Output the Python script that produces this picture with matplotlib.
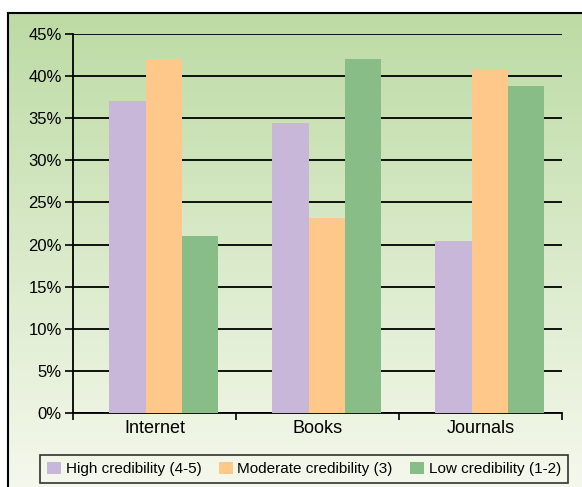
import numpy as np
import matplotlib.pyplot as plt
from matplotlib.colors import LinearSegmentedColormap

# Data
categories = ["Internet", "Books", "Journals"]
high_cred = [37.0, 34.4, 20.4]
moderate_cred = [42.0, 23.2, 40.8]
low_cred = [21.0, 42.0, 38.8]
series_labels = ["High credibility (4-5)", "Moderate credibility (3)", "Low credibility (1-2)"]
yticks = [0, 5, 10, 15, 20, 25, 30, 35, 40, 45]

COLORS = ["#c8b7d8", "#fec88a", "#88bd88"]
FONT = "Liberation Sans"

fig = plt.figure(figsize=(5.82, 4.87), dpi=100)

# Gradient panel behind everything
bg = fig.add_axes([8 / 582, -0.02, 1.0, 1 - 13 / 487 + 0.02])
cmap = LinearSegmentedColormap.from_list("bg", ["#f6f9ee", "#bddba5"])
grad = np.linspace(0, 1, 256).reshape(-1, 1)
bg.imshow(grad, aspect="auto", cmap=cmap, origin="lower", extent=[0, 1, 0, 1])
bg.set_xticks([])
bg.set_yticks([])
for side in ["right", "bottom"]:
    bg.spines[side].set_visible(False)
for side in ["left", "top"]:
    bg.spines[side].set_linewidth(1.5)
bg.set_zorder(0)

ax = fig.add_axes([73 / 582, 1 - 413 / 487, (562 - 73) / 582, (413 - 34) / 487])
ax.set_facecolor("none")
ax.set_zorder(1)

x = np.arange(len(categories))
w = 0.223
shift = 0.057  # bar groups sit a little right of the category centre
for i, (vals, col, lab) in enumerate(zip([high_cred, moderate_cred, low_cred], COLORS, series_labels)):
    ax.bar(x + shift + (i - 1) * w, vals, width=w, color=col, label=lab, zorder=3)

ax.set_xlim(-0.5, len(categories) - 0.5)
ax.set_ylim(0, 45)
ax.set_yticks(yticks)
ax.set_yticklabels([f"{t}%" for t in yticks], fontsize=12, family=FONT)
ax.yaxis.grid(True, color="black", linewidth=1.3, zorder=1)
ax.set_axisbelow(True)

ax.set_xticks(x)
ax.set_xticklabels(categories, fontsize=13, family=FONT)
ax.tick_params(axis="x", which="major", length=0, pad=5)
ax.set_xticks(np.arange(len(categories) + 1) - 0.5, minor=True)
ax.tick_params(axis="x", which="minor", length=5, width=1.2, direction="out")
ax.tick_params(axis="y", length=6, width=1.2, pad=2)

for side in ["top", "right"]:
    ax.spines[side].set_visible(False)
for side in ["left", "bottom"]:
    ax.spines[side].set_linewidth(1.3)

leg = fig.legend(loc="center", bbox_to_anchor=(304 / 582, 1 - 469 / 487), ncol=3,
                 frameon=True, fancybox=False, edgecolor="black", facecolor="none",
                 prop={"family": FONT, "size": 11}, handlelength=0.9, handleheight=0.9,
                 handletextpad=0.3, columnspacing=1.15, borderpad=0.45, borderaxespad=0)
leg.get_frame().set_linewidth(1.2)

fig.savefig("out.png", dpi=100)
